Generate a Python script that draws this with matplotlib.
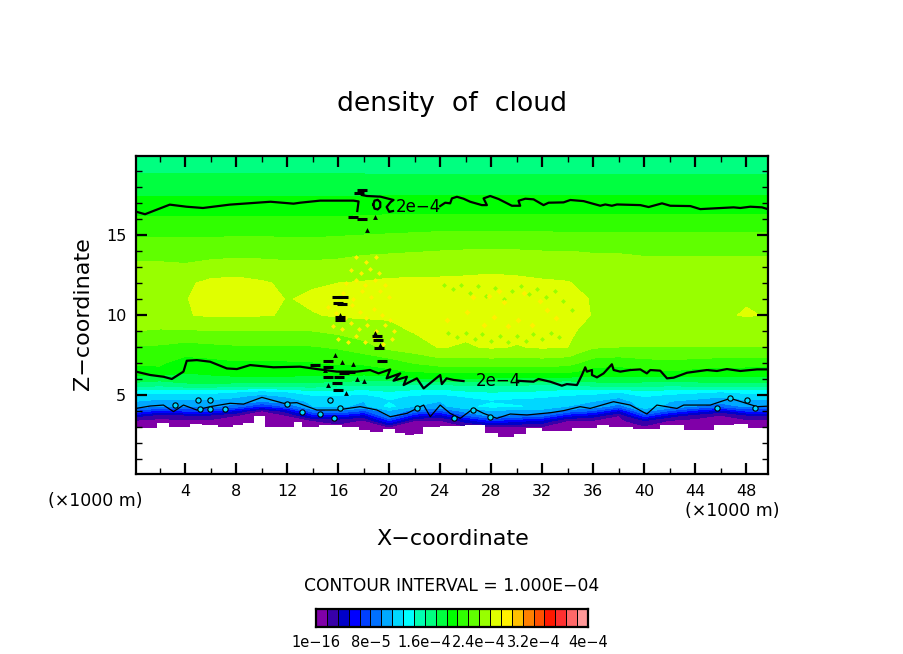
import numpy as np
import matplotlib
matplotlib.use("Agg")
import matplotlib.pyplot as plt
from matplotlib.colors import BoundaryNorm, ListedColormap

# grid of the density field, values below are in units of 1e-5
x_grid = [0, 2, 4, 6, 8, 10, 12, 14, 16, 18, 20, 22, 24, 26, 28, 30, 32, 34, 36, 38, 40, 42, 44, 46, 48, 50]
z_grid = [2.0, 2.5, 3.0, 3.4, 3.7, 4.0, 4.3, 4.6, 4.9, 5.2, 5.6, 6.0, 6.5, 7.0, 8.0, 9.0, 10.0, 11.0, 12.0, 13.0, 14.0, 15.0, 16.0, 17.0, 18.0, 19.0, 20.0]
density = [
    [.2, .2, .2, .2, .2, .2, .2, .2, .2, .2, .3, .3, .3, .4, .5, .5, .4, .3, .2, .2, .2, .2, .2, .2, .2, .2],
    [.3, .3, .3, .3, .3, .3, .3, .3, .3, .3, .6, .5, .5, .6, .8, .8, .7, .5, .5, .3, .5, .4, .3, .3, .3, .3],
    [.93, .75, .8, .8, .65, .3, .6, 1.07, 1.13, .93, 1.6, 1.07, .93, 1.33, 1.6, 1.5, 1.4, 1.07, .93, .65, 1.27, .93, .75, .6, .8, .8],
    [1.47, 1.27, 1.33, 1.33, 1.13, .7, 1.07, 1.6, 2.1, 1.47, 6.5, 1.6, 1.47, 3.9, 6.5, 5.4, 4.5, 1.6, 1.47, 1.13, 3.2, 1.47, 1.27, 1.07, 1.33, 1.33],
    [3.9, 2.1, 2.6, 2.6, 1.53, 1.07, 1.47, 5.2, 5.8, 3.9, 10, 5.2, 3.9, 7.7, 10, 9.1, 8.3, 5.2, 3.9, 1.53, 7.1, 3.9, 2.1, 1.47, 2.6, 2.6],
    [7.7, 5.8, 6.5, 6.5, 4.5, 1.47, 3.9, 8.9, 9.4, 7.7, 10.9, 8.9, 7.7, 10.3, 10.9, 10.6, 10.4, 8.9, 7.7, 4.5, 10.2, 7.7, 5.8, 3.9, 6.5, 6.5],
    [10.8, 9.6, 10, 10, 8.9, 6.3, 8.5, 11.2, 11.5, 10.8, 13.3, 11.2, 10.8, 12.3, 13.3, 12.9, 12.5, 11.2, 10.8, 8.9, 12.1, 10.8, 9.6, 8.5, 10, 10],
    [11.2, 10.8, 10.9, 10.9, 10.5, 9.6, 10.4, 11.5, 11.6, 11.2, 12.6, 11.5, 11.2, 12, 12.6, 12.3, 12.1, 11.5, 11.2, 10.5, 11.9, 11.2, 10.8, 10.4, 10.9, 10.9],
    [12.1, 11.7, 11.8, 11.8, 11.4, 10.5, 11.3, 12.4, 12.5, 12.1, 13.3, 12.4, 12.1, 12.9, 13.4, 13.2, 13, 12.4, 12.1, 11.4, 12.8, 12.1, 11.7, 11.3, 11.8, 11.8],
    [13.6, 13.2, 13.3, 13.3, 12.9, 12.1, 12.8, 13.9, 14, 13.6, 14.3, 13.8, 13.6, 14.2, 14.5, 14.3, 14.2, 13.9, 13.6, 12.9, 14, 13.6, 13.2, 12.8, 13.3, 13.3],
    [16.7, 16.2, 17, 17, 16.8, 16.8, 16.8, 16.8, 16.2, 16, 16, 15.6, 15.6, 16, 16, 16, 15.6, 15.2, 16.4, 16.8, 16.4, 16.2, 16.4, 16.8, 16.8, 16.8],
    [18.6, 18.2, 18.6, 18.8, 18.9, 18.9, 18.9, 18.6, 18.4, 18.2, 18.2, 19, 18.9, 19, 18.9, 18.9, 18.9, 18.6, 18.6, 18.9, 18.6, 18.4, 18.6, 18.9, 18.9, 18.9],
    [20.2, 20.5, 19.4, 19.6, 19.8, 19.8, 19.8, 19.9, 20.2, 20.2, 20.5, 21, 21.2, 21.2, 21.2, 21.3, 21.3, 21.3, 20.2, 20, 20.6, 20.8, 20.4, 20.1, 20, 20],
    [21, 21, 20.1, 20.3, 20.6, 20.6, 20.6, 20.7, 21, 21, 21.5, 22.5, 23.2, 23.2, 23.2, 23.2, 23.2, 23, 21.6, 21.4, 21.8, 22, 21.8, 21.6, 21.6, 21.6],
    [22.2, 22.2, 21.8, 22, 22.2, 22.2, 22.2, 22.3, 22.6, 23.4, 24.5, 25, 25.7, 25.4, 25.8, 25.5, 25.8, 25.6, 24.2, 24, 24, 24, 24, 24, 24, 24],
    [24, 23.8, 23.8, 24, 24, 24, 24, 24, 24.4, 24.9, 25.2, 25.7, 25.9, 26, 26.1, 26.1, 26.1, 25.9, 25, 24.9, 24.9, 24.9, 24.9, 24.9, 24.9, 24.9],
    [25.4, 25.4, 25.5, 25.8, 25.8, 25.7, 25.5, 25.5, 25.8, 25.8, 25.8, 26.2, 26.5, 26.6, 26.9, 27, 26.9, 26.4, 25.5, 25.3, 25.3, 25.3, 25.4, 25.4, 25.7, 25.5],
    [25.5, 25.5, 25.5, 26.3, 26.5, 26.4, 25.5, 25.9, 26, 26, 26, 26.3, 26.5, 26.7, 27, 27.1, 26.9, 26.4, 25.4, 25.2, 25.2, 25.2, 25.3, 25.4, 25.5, 25.4],
    [25.4, 25.3, 25.3, 26, 26.2, 25.8, 25.3, 25.4, 25.6, 25.7, 25.9, 25.9, 25.9, 26, 26.1, 26, 25.8, 25.7, 25.1, 24.9, 24.9, 25, 25, 25, 25, 25],
    [24.3, 24.3, 24.2, 24.5, 24.6, 24.5, 24.4, 24.4, 24.5, 24.8, 24.9, 25, 25.1, 25.1, 25.2, 25.1, 25, 24.8, 24.6, 24.5, 24.4, 24.4, 24.4, 24.4, 24.4, 24.4],
    [23.4, 23.4, 23.3, 23.4, 23.5, 23.5, 23.4, 23.4, 23.5, 23.7, 23.8, 23.9, 24, 24.1, 24.1, 24.1, 24, 24, 23.9, 23.9, 23.8, 23.8, 23.8, 23.8, 23.8, 23.8],
    [22.2, 22.2, 22.2, 22.2, 22.3, 22.3, 22.2, 22.2, 22.3, 22.4, 22.5, 22.6, 22.7, 22.7, 22.7, 22.7, 22.7, 22.6, 22.6, 22.6, 22.6, 22.6, 22.6, 22.6, 22.6, 22.6],
    [21, 21, 21, 21, 21, 21, 21, 21, 21, 21.1, 21.2, 21.2, 21.3, 21.3, 21.3, 21.3, 21.3, 21.3, 21.3, 21.3, 21.3, 21.3, 21.3, 21.3, 21.3, 21.3],
    [19.7, 19.7, 19.7, 19.7, 19.7, 19.7, 19.7, 19.7, 19.7, 19.7, 19.7, 19.7, 19.7, 19.7, 19.7, 19.7, 19.7, 19.7, 19.7, 19.7, 19.7, 19.7, 19.7, 19.7, 19.7, 19.7],
    [18.5, 18.5, 18.5, 18.5, 18.5, 18.5, 18.5, 18.5, 18.5, 18.5, 18.6, 18.6, 18.6, 18.6, 18.6, 18.6, 18.6, 18.6, 18.6, 18.6, 18.6, 18.6, 18.6, 18.6, 18.6, 18.6],
    [17.4, 17.4, 17.4, 17.4, 17.4, 17.4, 17.4, 17.4, 17.4, 17.4, 17.3, 17.3, 17.3, 17.3, 17.3, 17.3, 17.3, 17.3, 17.3, 17.3, 17.3, 17.3, 17.3, 17.3, 17.3, 17.3],
    [16.5, 16.5, 16.5, 16.5, 16.5, 16.5, 16.5, 16.5, 16.5, 16.5, 16.5, 16.5, 16.5, 16.5, 16.5, 16.5, 16.5, 16.5, 16.5, 16.5, 16.5, 16.5, 16.5, 16.5, 16.5, 16.5],
]

# bottom edge of the cloud
base_x = [0.15, 1.7, 1.9, 2.3, 3.1, 4.1, 4.65, 5.96, 7.27, 8.3, 8.84, 9.9, 10.7, 12.24, 12.76, 13.55, 15.38, 17.2, 18, 19, 20.1, 20.87, 21.65, 22.17, 23.2, 24.8, 27.14, 27.9, 29.23, 30.4, 31.06, 32.9, 35.76, 36.8, 37.6, 40.7, 41.8, 44.4, 46.5, 47.5, 48.8, 49.7]
base_z = [2.96, 2.96, 3.23, 3.23, 3.02, 2.98, 3.16, 3.12, 2.98, 3.12, 3.23, 3.68, 3.02, 2.98, 3.33, 3.02, 3.12, 3.02, 2.81, 2.71, 2.85, 2.6, 2.5, 2.56, 3.02, 3.06, 3.12, 2.6, 2.35, 2.56, 2.92, 2.77, 2.92, 3.12, 2.98, 2.85, 3.12, 2.81, 3.12, 3.19, 2.92, 2.92]

# 2e-4 contour, upper
upper_left_x = [0.15, 0.86, 1.5, 2.8, 4.1, 5.4, 7.5, 10.7, 12.5, 13.02, 14.59, 17.2, 17.6, 17.5]
upper_left_z = [16.46, 16.3, 16.5, 16.9, 16.77, 16.69, 16.9, 17.08, 16.96, 17.02, 17.15, 17.15, 17.1, 16.5]
upper_loop_x = [17.86, 18.25, 19.3, 20.34, 20.1, 19.8, 20.0, 20.3]
upper_loop_z = [17.5, 17.44, 17.4, 17.19, 17.05, 16.75, 16.45, 16.5]
ring_x = [18.75, 18.85, 19.1, 19.3, 19.3, 19.1, 18.85, 18.75]
ring_z = [16.9, 17.15, 17.2, 17.05, 16.75, 16.6, 16.65, 16.9]
upper_right_x = [24.0, 24.39, 24.78, 24.92, 25.31, 25.83, 26.35, 27.27, 27.66, 27.4, 27.92, 28.58, 29.62, 30.27, 30.14, 30.67, 31.32, 32.1, 32.5, 33.67, 34.2, 35.24, 36.55, 36.94, 37.46, 37.86, 39.69, 40.34, 41.39, 42.04, 43.61, 44.39, 47.0, 47.53, 48.31, 49.23, 49.75]
upper_right_z = [16.81, 17.02, 16.98, 17.29, 17.39, 17.27, 17.08, 16.87, 16.87, 17.29, 17.44, 17.25, 16.83, 16.83, 17.14, 17.27, 17.23, 16.87, 17.02, 17.04, 17.19, 17.12, 16.83, 16.91, 16.83, 16.91, 16.87, 16.75, 16.98, 16.83, 16.81, 16.62, 16.73, 16.69, 16.77, 16.73, 16.6]

# 2e-4 contour, lower
lower_left_x = [0.15, 1.26, 2.3, 2.96, 3.87, 4.13, 4.92, 5.96, 7.27, 8.06, 9.1, 10.93, 13.02, 14.33, 15.9, 17.47, 18.5, 19.17, 20.08, 19.8, 20.87, 20.34, 21.39, 21.13, 22.17, 22.7, 23.35, 24.0, 24.13, 24.5, 25.05, 25.83]
lower_left_z = [6.46, 6.25, 6.14, 6.0, 6.46, 7.14, 7.18, 7.08, 6.66, 6.62, 6.87, 6.73, 6.77, 6.62, 6.46, 6.46, 6.56, 6.35, 6.6, 6.04, 6.35, 5.89, 6.14, 5.62, 6.04, 5.41, 5.83, 6.25, 5.68, 6.04, 5.94, 5.87]
lower_right_x = [30.01, 31.32, 31.71, 32.63, 33.54, 33.93, 34.72, 35.11, 35.37, 35.5, 35.9, 35.9, 36.29, 36.81, 37.46, 37.6, 38.12, 38.9, 39.69, 40.2, 40.47, 41.25, 41.78, 42.3, 43.35, 44.92, 45.7, 46.48, 47.53, 48.84, 49.7]
lower_right_z = [5.89, 5.83, 6.0, 5.83, 5.58, 5.68, 5.62, 6.25, 6.73, 6.46, 6.56, 6.25, 6.1, 6.35, 6.92, 6.56, 6.46, 6.56, 6.6, 6.35, 6.56, 6.52, 6.04, 6.08, 6.39, 6.56, 6.5, 6.62, 6.5, 6.6, 6.6]

# 1e-4 contour
thin_x = [0.15, 1.26, 2.3, 3.09, 3.87, 4.92, 5.96, 7.53, 8.58, 10.02, 11.72, 12.76, 14.33, 15.9, 17.73, 19.04, 20.08, 21.39, 22.7, 23.22, 24, 24.78, 25.57, 26.61, 27.4, 28.44, 29.49, 30.8, 32.63, 33.67, 34.98, 35.76, 37.59, 38.9, 40.2, 40.99, 42.56, 43.09, 45.18, 46.75, 48.84, 49.7]
thin_z = [4.16, 4.31, 4.37, 3.96, 4.37, 4.06, 4.27, 4.48, 4.43, 4.85, 4.48, 4.52, 4.06, 4.06, 4.27, 4.06, 3.64, 3.85, 4.37, 3.64, 4.37, 3.85, 3.54, 4.16, 3.85, 3.54, 3.81, 3.75, 3.89, 4.02, 4.27, 4.16, 4.58, 4.37, 3.81, 4.37, 4.16, 4.37, 4.37, 4.79, 4.27, 4.3]

# small closed contours and black specks
loop_x = [5.18, 5.96, 7.14, 3.22, 5.05, 5.96, 11.98, 13.15, 14.59, 15.38, 16.16, 22.17, 15.64, 25.05, 27.92, 26.61, 45.7, 46.75, 48.05, 48.7]
loop_z = [4.1, 4.1, 4.1, 4.37, 4.69, 4.69, 4.41, 3.95, 3.81, 4.69, 4.16, 4.16, 3.54, 3.54, 3.64, 4.06, 4.16, 4.79, 4.69, 4.16]
dash_x = [14.2, 15.24, 15.24, 15.9, 16.37, 15.95, 16.29, 16.16, 16.16, 19.03, 19.16, 19.24, 19.42, 15.24, 16.03, 15.95, 15.9, 16.94, 16.42, 17.6, 17.86, 17.2, 17.86]
dash_z = [6.88, 7.1, 6.73, 11.15, 11.1, 10.77, 10.69, 9.9, 9.69, 8.71, 8.44, 7.92, 7.1, 6.15, 6.15, 5.3, 5.73, 6.46, 6.4, 17.6, 17.8, 16.1, 16.0]
tri_x = [16.16, 18.9, 19.3, 16.29, 15.77, 14.98, 17.2, 18.9, 18.25, 17.5, 18.0, 16.6, 15.2]
tri_z = [10.0, 8.86, 8.13, 7.08, 7.5, 6.56, 6.94, 16.15, 15.3, 6.0, 5.9, 5.1, 5.6]

yellow_x = [15.2, 15.8, 16.5, 17.1, 17.7, 18.2, 18.8, 19.4, 20.1, 15.6, 16.3, 17.0, 17.6, 18.3, 19.0, 19.7, 20.4, 16.0, 16.8, 17.4, 18.1, 18.8, 19.5, 20.2, 16.4, 17.2, 17.9, 18.6, 19.3, 20.0, 16.6, 17.4, 18.1, 18.9, 19.7, 17.0, 17.8, 18.5, 19.2, 17.4, 18.2, 19.0]
yellow_z = [10.5, 10.1, 9.8, 10.6, 10.2, 9.8, 10.4, 10.0, 9.7, 9.3, 9.1, 9.5, 9.1, 9.4, 9.0, 9.4, 9.0, 8.5, 8.3, 8.7, 8.3, 8.6, 8.2, 8.5, 11.4, 11.0, 11.5, 11.1, 11.5, 11.1, 12.0, 12.2, 11.9, 12.2, 11.9, 12.8, 12.6, 12.9, 12.6, 13.6, 13.3, 13.6]
lime_x = [24.3, 25.0, 25.6, 26.3, 27.0, 27.6, 28.3, 29.0, 29.6, 30.3, 31.0, 31.6, 32.3, 33.0, 33.6, 34.3, 24.6, 25.3, 26.0, 26.7, 27.3, 28.0, 28.7, 29.3, 30.0, 30.7, 31.3, 32.0, 32.7, 33.3]
lime_z = [11.9, 11.6, 11.9, 11.4, 11.8, 11.2, 11.7, 11.0, 11.5, 11.8, 11.3, 11.6, 11.1, 11.5, 10.9, 10.3, 8.9, 8.6, 8.9, 8.5, 8.8, 8.4, 8.7, 8.3, 8.7, 8.4, 8.8, 8.5, 8.9, 8.6]
amber_x = [24.5, 26.1, 27.4, 28.2, 29.3, 30.1, 31.2, 32.4, 33.1, 27.8, 29.0, 30.6, 31.8, 26.6, 28.6]
amber_z = [9.7, 10.2, 9.4, 9.9, 9.3, 9.7, 9.4, 10.3, 9.8, 11.2, 10.8, 11.4, 10.9, 11.1, 11.5]

levels = [1e-16, 1.6, 3.2, 4.8, 6.4, 8.0, 9.6, 11.2, 12.8, 14.4, 16.0, 17.6, 19.2, 20.8, 22.4, 24.0, 25.6, 27.2, 28.8, 30.4, 32.0, 33.6, 35.2, 36.8, 38.4, 40.0]
colors = ["#8000A8", "#3800A8", "#0000C8", "#0000FF", "#0040FF", "#0070FF", "#00A8FF", "#00D8FF", "#00FFFF", "#00FFB0",
          "#00FF80", "#00FF40", "#00FF00", "#30FF00", "#60FF00", "#98FF00", "#E0FF00", "#FFF000", "#FFC000", "#FF8000",
          "#FF5000", "#FF1800", "#FF3030", "#FF6868", "#FF9898"]
bar_ticks = [0, 5, 10, 15, 20, 25]
bar_labels = ["1e\u221216", "8e\u22125", "1.6e\u22124", "2.4e\u22124", "3.2e\u22124", "4e\u22124"]

W, H = 904, 654
fig = plt.figure(figsize=(W / 100, H / 100), dpi=100)
ax = fig.add_axes([136 / W, 1 - 474 / H, (768 - 136) / W, (474 - 156) / H])

cmap = ListedColormap(colors)
norm = BoundaryNorm(levels, cmap.N)
ax.contourf(x_grid, z_grid, np.array(density), levels=levels, cmap=cmap, norm=norm, antialiased=False, zorder=1)
ax.fill_between(base_x, 0, base_z, step="mid", color="white", lw=0, zorder=1.2)

# textures from the wave region
ax.plot(yellow_x, yellow_z, ls="none", marker="D", ms=2.5, color="#FFF000", mew=0, zorder=1.3)
ax.plot(lime_x, lime_z, ls="none", marker="D", ms=2.5, color="#98FF00", mew=0, zorder=1.3)
ax.plot(amber_x, amber_z, ls="none", marker="D", ms=3, color="#FFF000", mew=0, zorder=1.3)

ax.plot(thin_x, thin_z, color="k", lw=0.9, zorder=1.5)
ax.plot(loop_x, loop_z, ls="none", marker="o", ms=3.8, mfc="#00D8FF", mec="k", mew=0.8, zorder=1.5)
for xs, zs in [(upper_left_x, upper_left_z), (upper_loop_x, upper_loop_z), (ring_x, ring_z),
               (upper_right_x, upper_right_z), (lower_left_x, lower_left_z), (lower_right_x, lower_right_z)]:
    ax.plot(xs, zs, color="k", lw=1.6, zorder=1.6)
ax.plot(dash_x, dash_z, ls="none", marker="_", ms=6.5, mew=2.2, color="k", zorder=1.6)
ax.plot(tri_x, tri_z, ls="none", marker="^", ms=3.5, color="k", mew=0, zorder=1.6)

ax.text(22.3, 16.75, "2e\u22124", fontsize=12, ha="center", va="center", zorder=2)
ax.text(28.6, 5.87, "2e\u22124", fontsize=12, ha="center", va="center", zorder=2)

ax.set_xlim(0.15, 49.7)
ax.set_ylim(0.06, 19.94)
ax.set_xticks(range(4, 49, 4))
ax.set_xticks(range(2, 50, 4), minor=True)
ax.set_yticks([5, 10, 15])
ax.set_yticks([z for z in range(1, 20) if z % 5], minor=True)
ax.tick_params(which="major", direction="in", top=True, right=True, length=8, width=1.6, labelsize=11.5, pad=7)
ax.tick_params(which="minor", direction="in", top=True, right=True, length=4, width=1.0)
for s in ax.spines.values():
    s.set_linewidth(1.6)

fig.text(452 / W, 1 - 104 / H, "density  of  cloud", fontsize=19.3, ha="center", va="center")
fig.text(452.5 / W, 1 - 539 / H, "X\u2212coordinate", fontsize=16, ha="center", va="center")
fig.text(83 / W, 1 - 314 / H, "Z\u2212coordinate", fontsize=16, ha="center", va="center", rotation=90)
fig.text(95.5 / W, 1 - 501 / H, "(\u00d71000 m)", fontsize=12.5, ha="center", va="center")
fig.text(732.5 / W, 1 - 511 / H, "(\u00d71000 m)", fontsize=12.5, ha="center", va="center")
fig.text(452 / W, 1 - 586 / H, "CONTOUR INTERVAL = 1.000E\u221204", fontsize=12.3, ha="center", va="center")

# colour key
cax = fig.add_axes([316 / W, 1 - 627 / H, (588 - 316) / W, 18 / H])
cax.pcolormesh(range(len(colors) + 1), [0, 1], [range(len(colors))], cmap=cmap, edgecolors="k", linewidth=0.6)
cax.set_xticks(bar_ticks)
cax.set_xticklabels(bar_labels, fontsize=10.5)
cax.set_yticks([])
cax.tick_params(length=0, pad=6)
for s in cax.spines.values():
    s.set_linewidth(1.6)

fig.savefig("out.png", dpi=100)
